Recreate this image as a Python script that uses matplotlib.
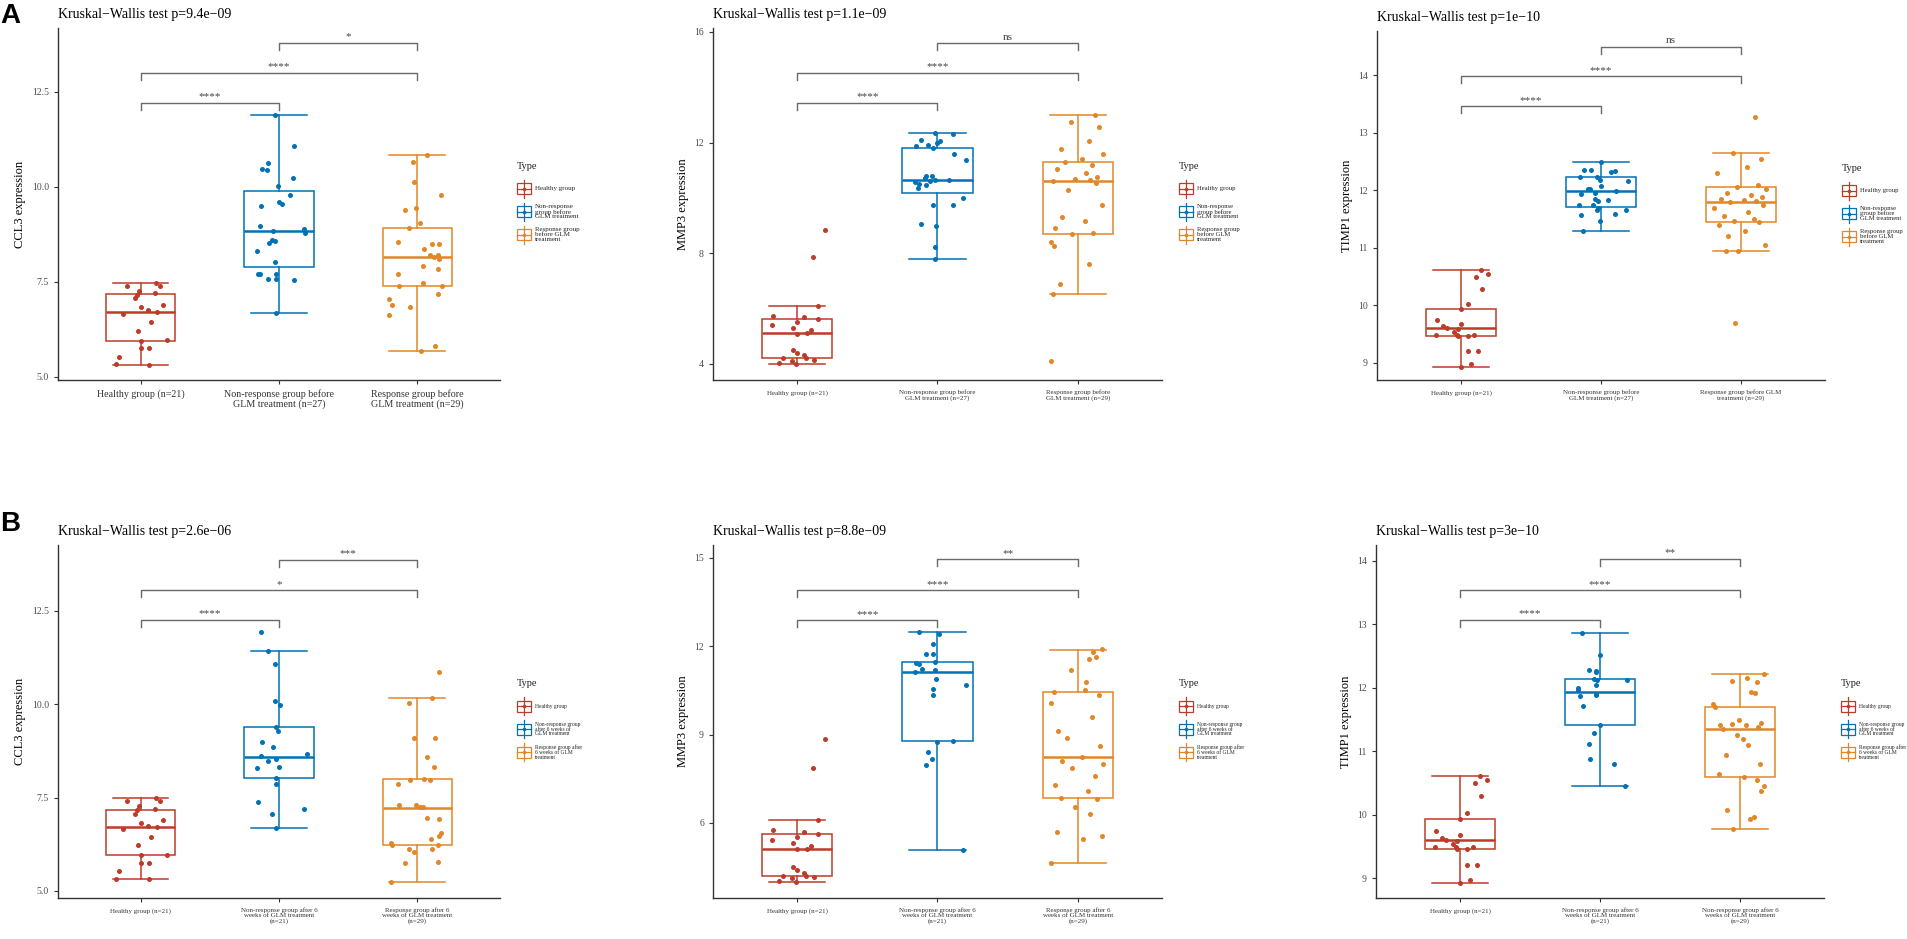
import matplotlib
matplotlib.use('Agg')
import matplotlib.pyplot as plt
from matplotlib.patches import Rectangle
from matplotlib.ticker import FormatStrFormatter

plt.rcParams['font.family'] = ['Liberation Serif', 'DejaVu Serif']

colors = ['#BC3C29', '#0072B5', '#E18727']

# ---------------- data ----------------
# healthy group: same samples in row A and row B
ccl3_healthy = [7.40, 7.48, 7.40, 7.27, 7.20, 7.16, 7.07, 6.83, 6.89, 6.65, 6.75, 6.70, 6.44, 6.22,
                5.95, 5.96, 5.76, 5.76, 5.52, 5.33, 5.32]
ccl3_healthy_dx = [-0.10, 0.11, 0.14, -0.01, 0.10, -0.03, -0.04, 0.00, 0.16, -0.13, 0.05, 0.12, 0.07,
                   -0.02, 0.00, 0.19, 0.00, 0.06, -0.16, -0.18, 0.06]
ccl3_healthy_box = [5.32, 5.95, 6.70, 7.17, 7.48]   # whislo, q1, median, q3, whishi

mmp3_healthy = [8.84, 7.88, 6.10, 5.75, 5.68, 5.62, 5.51, 5.41, 5.31, 5.22, 5.13, 5.10, 4.51, 4.40,
                4.31, 4.21, 4.20, 4.16, 4.12, 4.04, 4.00]
mmp3_healthy_dx = [0.20, 0.11, 0.15, -0.17, 0.05, 0.15, 0.00, -0.18, -0.03, 0.10, 0.07, 0.00, -0.03,
                   0.00, 0.05, 0.06, -0.10, 0.12, -0.04, -0.13, -0.01]
mmp3_healthy_box = [4.00, 4.20, 5.11, 5.62, 6.10]

timp1_healthy = [10.61, 10.55, 10.50, 10.29, 10.03, 9.94, 9.75, 9.68, 9.64, 9.60, 9.59, 9.54, 9.49,
                 9.49, 9.49, 9.46, 9.46, 9.21, 9.21, 8.97, 8.93]
timp1_healthy_dx = [0.14, 0.19, 0.11, 0.15, 0.05, 0.00, -0.17, 0.00, -0.13, -0.10, -0.02, -0.05, -0.03,
                    -0.18, 0.09, -0.02, 0.05, 0.05, 0.12, 0.07, 0.00]
timp1_healthy_box = [8.93, 9.46, 9.60, 9.94, 10.61]

# row A: before GLM treatment
ccl3_nr_before = [11.88, 11.08, 10.63, 10.47, 10.44, 10.24, 10.03, 9.78, 9.49, 9.60, 9.55, 8.98, 8.90,
                  8.85, 8.78, 8.61, 8.58, 8.52, 8.32, 8.03, 7.70, 7.70, 7.70, 7.57, 7.57, 7.54, 6.68]
ccl3_nr_before_dx = [-0.03, 0.11, -0.08, -0.12, -0.09, 0.10, -0.01, 0.08, -0.13, 0.00, 0.02, -0.14, 0.18,
                     -0.04, 0.19, -0.05, -0.03, -0.07, -0.16, -0.03, -0.15, -0.14, -0.02, -0.08, -0.02,
                     0.11, -0.02]
ccl3_nr_before_box = [6.68, 7.88, 8.85, 9.90, 11.88]

ccl3_r_before = [10.84, 10.66, 10.13, 9.78, 9.40, 9.44, 9.06, 8.93, 8.54, 8.51, 8.51, 8.36, 8.20, 8.15,
                 8.20, 8.10, 7.92, 7.85, 7.70, 7.48, 7.38, 7.40, 7.17, 7.05, 6.89, 6.85, 6.63, 5.82, 5.67]
ccl3_r_before_dx = [0.07, -0.03, -0.02, 0.17, -0.09, -0.01, 0.02, -0.06, -0.14, 0.11, 0.16, 0.05, 0.09,
                    0.12, 0.15, 0.16, 0.04, 0.15, -0.14, 0.04, -0.13, 0.18, 0.15, -0.20, -0.18, -0.05,
                    -0.20, 0.13, 0.03]
ccl3_r_before_box = [5.67, 7.38, 8.15, 8.93, 10.84]

mmp3_nr_before = [12.34, 12.31, 12.11, 12.07, 12.00, 11.86, 11.91, 11.79, 11.60, 11.38, 10.79, 10.79,
                  10.72, 10.65, 10.65, 10.60, 10.56, 10.52, 10.47, 10.36, 9.98, 9.75, 9.75, 9.07, 8.97,
                  8.24, 7.78]
mmp3_nr_before_dx = [-0.02, 0.11, -0.12, 0.02, 0.00, -0.15, -0.07, -0.03, 0.12, 0.20, -0.08, -0.04, -0.09,
                     -0.02, 0.08, -0.05, -0.16, -0.13, -0.08, -0.14, 0.18, -0.03, 0.11, -0.12, -0.01,
                     -0.02, -0.02]
mmp3_nr_before_box = [7.78, 10.18, 10.65, 11.81, 12.34]

mmp3_r_before = [12.98, 12.75, 12.55, 12.05, 11.75, 11.60, 11.40, 11.30, 11.20, 11.05, 10.90, 10.75,
                 10.70, 10.65, 10.61, 10.55, 10.30, 9.75, 9.30, 9.15, 8.90, 8.75, 8.70, 8.41, 8.25, 7.60,
                 6.90, 6.53, 4.10]
mmp3_r_before_dx = [0.12, -0.05, 0.15, 0.08, -0.12, 0.18, 0.03, -0.09, 0.10, -0.15, 0.06, 0.14, -0.02,
                    0.09, -0.18, 0.13, -0.07, 0.17, -0.11, 0.05, -0.16, 0.11, -0.04, -0.19, -0.17, 0.08,
                    -0.13, -0.18, -0.19]
mmp3_r_before_box = [6.53, 8.70, 10.61, 11.28, 12.98]

timp1_nr_before = [12.49, 12.35, 12.36, 12.34, 12.31, 12.23, 12.23, 12.16, 12.08, 12.02, 12.02, 11.98,
                   11.94, 11.95, 11.84, 11.82, 11.74, 11.74, 11.69, 11.66, 11.65, 11.57, 11.58, 11.47,
                   11.29, 12.17, 11.83]
timp1_nr_before_dx = [0.00, -0.12, -0.07, 0.10, 0.07, -0.15, -0.03, 0.19, 0.00, -0.09, -0.08, 0.11, -0.14,
                      -0.04, -0.04, -0.02, -0.16, -0.06, -0.02, -0.03, 0.18, -0.14, 0.10, -0.01, -0.13,
                      -0.01, 0.05]
timp1_nr_before_box = [11.29, 11.71, 11.99, 12.23, 12.49]

timp1_r_before = [13.27, 12.65, 12.55, 12.40, 12.30, 12.10, 12.05, 12.02, 11.95, 11.92, 11.88, 11.85,
                  11.83, 11.81, 11.80, 11.75, 11.70, 11.62, 11.55, 11.50, 11.47, 11.45, 11.40, 11.30,
                  11.20, 11.05, 10.95, 10.95, 9.70]
timp1_r_before_dx = [0.10, -0.06, 0.14, 0.04, -0.17, 0.12, -0.03, 0.18, -0.10, 0.07, 0.15, -0.14, 0.02,
                     0.11, -0.08, 0.16, -0.19, 0.05, -0.12, 0.09, -0.05, 0.13, -0.16, 0.03, -0.09, 0.17,
                     -0.02, -0.11, -0.04]
timp1_r_before_box = [10.95, 11.45, 11.80, 12.05, 12.65]

# row B: after 6 weeks of GLM treatment
ccl3_nr_after = [11.93, 11.42, 11.08, 10.09, 9.99, 9.39, 9.29, 8.99, 8.85, 8.67, 8.60, 8.52, 8.47, 8.31,
                 8.28, 8.03, 7.85, 7.39, 7.18, 7.05, 6.68]
ccl3_nr_after_dx = [-0.13, -0.08, -0.03, -0.03, 0.01, -0.02, -0.01, -0.12, -0.04, 0.20, -0.13, -0.02,
                    -0.08, 0.00, -0.16, -0.02, -0.02, -0.15, 0.18, -0.05, -0.02]
ccl3_nr_after_box = [6.68, 8.02, 8.59, 9.39, 11.42]

ccl3_r_after = [10.85, 10.16, 10.03, 9.10, 9.10, 8.58, 8.31, 7.87, 7.96, 7.99, 7.97, 7.30, 7.31, 7.25,
                7.24, 6.95, 6.93, 6.56, 6.47, 6.40, 6.28, 6.22, 6.24, 6.13, 6.13, 6.03, 5.74, 5.78, 5.25]
ccl3_r_after_dx = [0.16, 0.11, -0.06, -0.02, 0.13, 0.07, 0.12, -0.14, -0.05, 0.05, 0.09, -0.13, -0.01,
                   0.02, 0.04, 0.07, 0.16, 0.17, 0.16, 0.10, -0.19, -0.18, 0.15, -0.06, 0.11, -0.02,
                   -0.09, 0.15, -0.19]
ccl3_r_after_box = [5.25, 6.24, 7.23, 8.00, 10.16]

mmp3_nr_after = [12.47, 12.41, 12.09, 11.75, 11.75, 11.44, 11.40, 11.46, 11.24, 11.12, 11.18, 10.90,
                 10.70, 10.54, 10.34, 8.74, 8.77, 8.42, 8.17, 7.97, 5.07]
mmp3_nr_after_dx = [-0.13, 0.01, -0.03, -0.08, -0.03, -0.15, -0.13, -0.02, -0.11, -0.16, -0.02, -0.01,
                    0.20, -0.03, -0.03, 0.00, 0.11, -0.07, -0.04, -0.08, 0.18]
mmp3_nr_after_box = [5.07, 8.77, 11.12, 11.46, 12.47]

mmp3_r_after = [11.90, 11.80, 11.64, 11.57, 11.18, 10.78, 10.50, 10.44, 10.36, 10.07, 9.60, 9.13, 8.90,
                8.60, 8.25, 8.10, 8.00, 7.85, 7.60, 7.30, 7.10, 6.86, 6.80, 6.55, 6.30, 5.70, 5.55, 5.45,
                4.65]
mmp3_r_after_dx = [0.17, 0.11, 0.13, 0.08, -0.05, 0.06, 0.05, -0.17, 0.15, -0.19, 0.10, -0.14, -0.08,
                   0.16, 0.03, -0.11, 0.18, -0.04, 0.12, -0.16, 0.07, -0.12, 0.14, -0.02, 0.09, -0.15,
                   0.17, 0.04, -0.19]
mmp3_r_after_box = [4.65, 6.86, 8.25, 10.44, 11.87]

timp1_nr_after = [12.87, 12.52, 12.28, 12.27, 12.25, 12.14, 12.12, 12.12, 12.04, 12.00, 11.97, 11.90,
                  11.89, 11.87, 11.71, 11.42, 11.29, 11.11, 10.88, 10.80, 10.45]
timp1_nr_after_dx = [-0.13, 0.00, -0.08, -0.03, -0.03, -0.04, -0.02, 0.19, -0.03, -0.16, -0.16, -0.03,
                     -0.03, -0.14, -0.12, 0.00, -0.04, -0.08, -0.07, 0.10, 0.18]
timp1_nr_after_box = [10.45, 11.42, 11.94, 12.14, 12.87]

timp1_r_after = [12.22, 12.11, 12.16, 12.09, 11.94, 11.92, 11.74, 11.70, 11.41, 11.35, 11.43, 11.49,
                 11.41, 11.39, 11.45, 11.26, 11.19, 9.77, 10.07, 9.94, 9.96, 10.45, 10.38, 11.10, 10.95,
                 10.80, 10.65, 10.60, 10.55]
timp1_r_after_dx = [0.17, -0.06, 0.05, 0.12, 0.08, 0.11, -0.19, -0.18, -0.14, -0.12, -0.06, -0.01, 0.04,
                    0.13, 0.15, -0.02, 0.02, -0.05, -0.09, 0.07, 0.10, 0.17, 0.15, 0.06, -0.10, 0.14,
                    -0.15, 0.03, 0.12]
timp1_r_after_box = [9.77, 10.60, 11.35, 11.70, 12.22]

# significance brackets: height of each bracket (1v2, 1v3, 2v3) and its label
ccl3_before_brk = [12.21, 13.00, 13.79]
ccl3_before_sig = ['****', '****', '*']
mmp3_before_brk = [13.44, 14.52, 15.60]
mmp3_before_sig = ['****', '****', 'ns']
timp1_before_brk = [13.46, 13.98, 14.50]
timp1_before_sig = ['****', '****', 'ns']
ccl3_after_brk = [12.26, 13.05, 13.87]
ccl3_after_sig = ['****', '*', '***']
mmp3_after_brk = [12.89, 13.91, 14.95]
mmp3_after_sig = ['****', '****', '**']
timp1_after_brk = [13.07, 13.54, 14.03]
timp1_after_sig = ['****', '****', '**']

pvals = ['9.4e\u221209', '1.1e\u221209', '1e\u221210', '2.6e\u221206', '8.8e\u221209', '3e\u221210']

xlab_a = ['Healthy group (n=21)', 'Non-response group before\nGLM treatment (n=27)',
          'Response group before\nGLM treatment (n=29)']
xlab_a3 = ['Healthy group (n=21)', 'Non-response group before\nGLM treatment (n=27)',
           'Response group before GLM\ntreatment (n=29)']
xlab_b = ['Healthy group (n=21)', 'Non-response group after 6\nweeks of GLM treatment\n(n=21)',
          'Response group after 6\nweeks of GLM treatment\n(n=29)']
xlab_b3 = ['Healthy group (n=21)', 'Non-response group after 6\nweeks of GLM treatment\n(n=21)',
           'Non-response group after 6\nweeks of GLM treatment\n(n=29)']

leg_a = ['Healthy group', 'Non-response\ngroup before\nGLM treatment', 'Response group\nbefore GLM\ntreatment']
leg_b = ['Healthy group', 'Non-response group\nafter 6 weeks of\nGLM treatment',
         'Response group after\n6 weeks of GLM\ntreatment']

W, H = 1908, 939
fig = plt.figure(figsize=(W / 100, H / 100), dpi=100)
# transparent overlay in pixel units, for the legends and panel letters
over = fig.add_axes([0, 0, 1, 1], zorder=5)
over.set_xlim(0, W)
over.set_ylim(H, 0)
over.set_axis_off()

panels = [
    dict(rect=(58, 28, 500, 380), ylab='CCL3 expression', ylim=(4.92, 14.18), yticks=[5, 7.5, 10, 12.5],
         fmt='%.1f', groups=[(ccl3_healthy, ccl3_healthy_dx, ccl3_healthy_box),
                             (ccl3_nr_before, ccl3_nr_before_dx, ccl3_nr_before_box),
                             (ccl3_r_before, ccl3_r_before_dx, ccl3_r_before_box)],
         brk=ccl3_before_brk, sig=ccl3_before_sig, p=pvals[0], xlab=xlab_a, xfs=7.2, leg=leg_a, lfs=5.0),
    dict(rect=(713, 28, 1162, 380), ylab='MMP3 expression', ylim=(3.42, 16.14), yticks=[4, 8, 12, 16],
         fmt='%d', groups=[(mmp3_healthy, mmp3_healthy_dx, mmp3_healthy_box),
                           (mmp3_nr_before, mmp3_nr_before_dx, mmp3_nr_before_box),
                           (mmp3_r_before, mmp3_r_before_dx, mmp3_r_before_box)],
         brk=mmp3_before_brk, sig=mmp3_before_sig, p=pvals[1], xlab=xlab_a, xfs=5.0, leg=leg_a, lfs=4.8),
    dict(rect=(1377, 31, 1825, 380), ylab='TIMP1 expression', ylim=(8.70, 14.77),
         yticks=[9, 10, 11, 12, 13, 14], fmt='%d',
         groups=[(timp1_healthy, timp1_healthy_dx, timp1_healthy_box),
                 (timp1_nr_before, timp1_nr_before_dx, timp1_nr_before_box),
                 (timp1_r_before, timp1_r_before_dx, timp1_r_before_box)],
         brk=timp1_before_brk, sig=timp1_before_sig, p=pvals[2], xlab=xlab_a3, xfs=5.0, leg=leg_a, lfs=4.8),
    dict(rect=(58, 545, 500, 898), ylab='CCL3 expression', ylim=(4.81, 14.26), yticks=[5, 7.5, 10, 12.5],
         fmt='%.1f', groups=[(ccl3_healthy, ccl3_healthy_dx, ccl3_healthy_box),
                             (ccl3_nr_after, ccl3_nr_after_dx, ccl3_nr_after_box),
                             (ccl3_r_after, ccl3_r_after_dx, ccl3_r_after_box)],
         brk=ccl3_after_brk, sig=ccl3_after_sig, p=pvals[3], xlab=xlab_b, xfs=5.0, leg=leg_b, lfs=4.0),
    dict(rect=(713, 545, 1162, 898), ylab='MMP3 expression', ylim=(3.45, 15.44), yticks=[6, 9, 12, 15],
         fmt='%d', groups=[(mmp3_healthy, mmp3_healthy_dx, mmp3_healthy_box),
                           (mmp3_nr_after, mmp3_nr_after_dx, mmp3_nr_after_box),
                           (mmp3_r_after, mmp3_r_after_dx, mmp3_r_after_box)],
         brk=mmp3_after_brk, sig=mmp3_after_sig, p=pvals[4], xlab=xlab_b, xfs=5.0, leg=leg_b, lfs=4.0),
    dict(rect=(1376, 545, 1824, 898), ylab='TIMP1 expression', ylim=(8.69, 14.25),
         yticks=[9, 10, 11, 12, 13, 14], fmt='%d',
         groups=[(timp1_healthy, timp1_healthy_dx, timp1_healthy_box),
                 (timp1_nr_after, timp1_nr_after_dx, timp1_nr_after_box),
                 (timp1_r_after, timp1_r_after_dx, timp1_r_after_box)],
         brk=timp1_after_brk, sig=timp1_after_sig, p=pvals[5], xlab=xlab_b3, xfs=5.0, leg=leg_b, lfs=4.0),
]

pairs = [(1, 2), (1, 3), (2, 3)]
pos = [1, 2, 3]


def draw_legend(rect, labels, lfs):
    # ggplot-style legend with small boxplot keys, placed right of the panel
    l, t, r, b = rect
    lx = r + 17
    ty = b - 0.62 * (b - t)
    over.text(lx, ty, 'Type', fontsize=7.5, ha='left', va='top', color='#222222')
    kw, kh = 14, 18
    for i, (c, lab) in enumerate(zip(colors, labels)):
        cy = ty + 27 + 23 * i
        cx = lx + kw / 2
        over.plot([cx, cx], [cy - kh / 2, cy + kh / 2], color=c, lw=0.9)
        over.add_patch(Rectangle((lx, cy - 5.5), kw, 11, facecolor='white', edgecolor=c, lw=0.9))
        over.plot([lx, lx + kw], [cy, cy], color=c, lw=0.9)
        over.plot([cx], [cy], 'o', color=c, ms=2.6, mec='none')
        over.text(lx + kw + 4, cy, lab, fontsize=lfs, ha='left', va='center', linespacing=0.95,
                  color='#222222')


for pn in panels:
    l, t, r, b = pn['rect']
    ax = fig.add_axes([l / W, 1 - b / H, (r - l) / W, (b - t) / H])
    ymin, ymax = pn['ylim']

    stats = [dict(whislo=g[2][0], q1=g[2][1], med=g[2][2], q3=g[2][3], whishi=g[2][4]) for g in pn['groups']]
    bp = ax.bxp(stats, positions=pos, widths=0.5, capwidths=0.4, showfliers=False, patch_artist=True,
                zorder=2)
    for i, c in enumerate(colors):
        bp['boxes'][i].set(facecolor='white', edgecolor=c, linewidth=1.1)
        bp['medians'][i].set(color=c, linewidth=1.8)
        for ln in bp['whiskers'][2 * i:2 * i + 2] + bp['caps'][2 * i:2 * i + 2]:
            ln.set(color=c, linewidth=1.1)

    for i, (vals, dx, _) in enumerate(pn['groups']):
        ax.plot([pos[i] + d for d in dx], vals, 'o', color=colors[i], ms=3.6, mec='none', zorder=3)

    # comparison brackets
    tip = 0.02 * (ymax - ymin)
    for (a, bb), h, lab in zip(pairs, pn['brk'], pn['sig']):
        ax.plot([a, a, bb, bb], [h - tip, h, h, h - tip], color='#6a6a6a', lw=1.0, clip_on=False)
        ax.annotate(lab, ((a + bb) / 2, h), xytext=(0, 1), textcoords='offset points', ha='center',
                    va='bottom', fontsize=8, color='#444444')

    ax.set_xlim(0.4, 3.6)
    ax.set_ylim(ymin, ymax)
    ax.set_yticks(pn['yticks'])
    ax.yaxis.set_major_formatter(FormatStrFormatter(pn['fmt']))
    ax.set_xticks(pos)
    ax.set_xticklabels(pn['xlab'], fontsize=pn['xfs'], color='#333333', linespacing=1.0)
    ax.tick_params(axis='y', labelsize=7, labelcolor='#4d4d4d', length=3, color='#333333', width=0.8)
    ax.tick_params(axis='x', length=3, color='#333333', width=0.8, pad=4)
    ax.set_ylabel(pn['ylab'], fontsize=9, labelpad=4)
    ax.set_title('Kruskal\u2212Wallis test p=' + pn['p'], loc='left', fontsize=10, pad=7)
    for s in ['top', 'right']:
        ax.spines[s].set_visible(False)
    for s in ['left', 'bottom']:
        ax.spines[s].set_color('#333333')
        ax.spines[s].set_linewidth(1.0)

    draw_legend(pn['rect'], pn['leg'], pn['lfs'])

over.text(0, 3, 'A', ha='left', va='top', fontsize=20, fontweight='bold',
          family=['Liberation Sans', 'DejaVu Sans'])
over.text(0, 511, 'B', ha='left', va='top', fontsize=20, fontweight='bold',
          family=['Liberation Sans', 'DejaVu Sans'])

fig.savefig('out.png', dpi=100)
